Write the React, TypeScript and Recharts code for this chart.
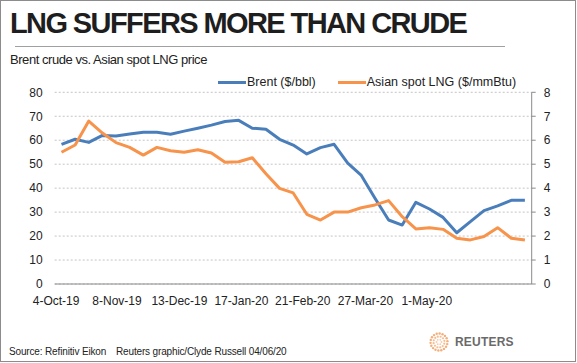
import React from 'react';
import { LineChart, Line, XAxis, YAxis, CartesianGrid } from 'recharts';

// weekly observations, 4-Oct-19 .. 29-May-20
const weeks = [
    '4-Oct-19', '11-Oct-19', '18-Oct-19', '25-Oct-19', '1-Nov-19', '8-Nov-19', '15-Nov-19',
    '22-Nov-19', '29-Nov-19', '6-Dec-19', '13-Dec-19', '20-Dec-19', '27-Dec-19', '3-Jan-20',
    '10-Jan-20', '17-Jan-20', '24-Jan-20', '31-Jan-20', '7-Feb-20', '14-Feb-20', '21-Feb-20',
    '28-Feb-20', '6-Mar-20', '13-Mar-20', '20-Mar-20', '27-Mar-20', '3-Apr-20', '10-Apr-20',
    '17-Apr-20', '24-Apr-20', '1-May-20', '8-May-20', '15-May-20', '22-May-20', '29-May-20',
];

// Brent, $/bbl (left axis)
const brent = [
    58.3, 60.4, 59.1, 62.0, 61.8, 62.6, 63.3, 63.3, 62.5, 63.8, 65.0, 66.3, 67.8, 68.3, 65.0,
    64.6, 60.4, 58.0, 54.3, 56.9, 58.3, 50.4, 45.3, 35.8, 26.7, 24.6, 34.1, 31.3, 27.8, 21.4,
    26.0, 30.6, 32.6, 34.9, 34.9,
];

// Asian spot LNG, $/mmBtu (right axis)
const lng = [
    5.5, 5.8, 6.8, 6.3, 5.9, 5.7, 5.38, 5.7, 5.56, 5.5, 5.6, 5.47, 5.08, 5.1, 5.27, 4.6, 3.99,
    3.8, 2.91, 2.67, 3.0, 3.0, 3.18, 3.3, 3.48, 2.81, 2.3, 2.35, 2.28, 1.91, 1.84, 1.98, 2.35,
    1.91, 1.84,
];

const seriesNames = ['Brent ($/bbl)', 'Asian spot LNG ($/mmBtu)'];
const seriesColors = ['#4a7ebb', '#f7934a'];

const xLabels = ['4-Oct-19', '8-Nov-19', '13-Dec-19', '17-Jan-20', '21-Feb-20', '27-Mar-20', '1-May-20'];
// where the original graphic puts those labels, in week-index units
const xLabelAt = [-0.4, 4.07, 8.65, 13.2, 17.7, 22.3, 26.8];

const leftTicks = [0, 10, 20, 30, 40, 50, 60, 70, 80];
const rightTicks = [0, 1, 2, 3, 4, 5, 6, 7, 8];

const data = weeks.map((week, i) => ({ idx: i, week, brent: brent[i], lng: lng[i] }));
const boundaryTicks = [...weeks.map((_, i) => i - 0.5), weeks.length - 0.5];

const FONT = '"Liberation Sans", Arial, Helvetica, sans-serif';
const AXIS = '#8a8a8a';

const ReutersLogo = () => {
    const rings = [
        { r: 2.5, n: 6, s: 0.9 },
        { r: 5.5, n: 12, s: 1.1 },
        { r: 8.5, n: 18, s: 1.2 },
    ];
    return (
        <svg width={24} height={24} style={{ position: 'absolute', left: 427, top: 330 }}>
            {rings.map((ring, k) =>
                Array.from({ length: ring.n }).map((_, j) => {
                    const a = (j / ring.n) * Math.PI * 2 + k * 0.3;
                    return (
                        <circle
                            key={`${k}-${j}`}
                            cx={12 + ring.r * Math.cos(a)}
                            cy={12 + ring.r * Math.sin(a)}
                            r={ring.s}
                            fill="#f4a062"
                            opacity={0.55 + 0.15 * k}
                        />
                    );
                })
            )}
        </svg>
    );
};

export default function App() {
    return (
        <div
            style={{
                position: 'absolute',
                left: 0,
                top: 0,
                width: 577,
                height: 363,
                background: '#fff',
                fontFamily: FONT,
                color: '#222',
                overflow: 'hidden',
            }}
        >
            <div
                style={{
                    position: 'absolute',
                    left: 0,
                    top: 0,
                    width: 576,
                    height: 362,
                    border: '1px solid #8c8c8c',
                    boxSizing: 'border-box',
                }}
            />
            <div
                style={{
                    position: 'absolute',
                    left: 10,
                    top: 9,
                    fontSize: 29,
                    lineHeight: '29px',
                    fontWeight: 'bold',
                    letterSpacing: -1.6,
                    color: '#1e1e1e',
                    whiteSpace: 'nowrap',
                }}
            >
                LNG SUFFERS MORE THAN CRUDE
            </div>
            <div style={{ position: 'absolute', left: 15, top: 46, width: 490, height: 1, background: '#a0a0a0' }} />
            <div
                style={{
                    position: 'absolute',
                    left: 10,
                    top: 53,
                    fontSize: 13,
                    lineHeight: '13px',
                    letterSpacing: -0.45,
                    whiteSpace: 'nowrap',
                }}
            >
                Brent crude vs. Asian spot LNG price
            </div>

            <div
                style={{
                    position: 'absolute',
                    left: 218,
                    top: 75,
                    display: 'flex',
                    gap: 22,
                    fontSize: 12.5,
                    lineHeight: '14px',
                    whiteSpace: 'nowrap',
                }}
            >
                {seriesNames.map((name, i) => (
                    <div key={name} style={{ display: 'flex', alignItems: 'center' }}>
                        <span style={{ display: 'inline-block', width: 28, height: 3, background: seriesColors[i], marginRight: 1 }} />
                        <span>{name}</span>
                    </div>
                ))}
            </div>

            <div style={{ position: 'absolute', left: 0, top: 0 }}>
                <LineChart
                    width={577}
                    height={363}
                    data={data}
                    margin={{ top: 92.3, right: 5.3, bottom: 49, left: 10 }}
                >
                    <CartesianGrid
                        yAxisId="left"
                        vertical={false}
                        stroke="#c4c4c4"
                        strokeDasharray="2 2"
                    />
                    <XAxis
                        dataKey="idx"
                        type="number"
                        domain={[-0.5, weeks.length - 0.5]}
                        ticks={boundaryTicks}
                        interval={0}
                        tick={false}
                        tickSize={4}
                        tickLine={{ stroke: AXIS }}
                        axisLine={{ stroke: AXIS }}
                        height={4}
                    />
                    <XAxis
                        xAxisId="lbl"
                        dataKey="idx"
                        type="number"
                        domain={[-0.5, weeks.length - 0.5]}
                        ticks={xLabelAt}
                        interval={0}
                        tickFormatter={(v) => xLabels[xLabelAt.indexOf(v)]}
                        tick={{ fontSize: 12, fill: '#222', fontFamily: FONT }}
                        axisLine={false}
                        tickLine={false}
                        height={26}
                    />
                    <YAxis
                        yAxisId="left"
                        domain={[0, 80]}
                        ticks={leftTicks}
                        interval={0}
                        axisLine={false}
                        tickLine={false}
                        tickMargin={6}
                        width={44.7}
                        tick={{ fontSize: 12, fill: '#222', fontFamily: FONT }}
                    />
                    <YAxis
                        yAxisId="right"
                        orientation="right"
                        domain={[0, 8]}
                        ticks={rightTicks}
                        interval={0}
                        axisLine={{ stroke: AXIS }}
                        tickLine={{ stroke: AXIS }}
                        tickSize={4}
                        tickMargin={8}
                        width={40}
                        tick={{ fontSize: 12, fill: '#222', fontFamily: FONT, textAnchor: 'start' }}
                    />
                    <Line
                        yAxisId="left"
                        type="linear"
                        dataKey="brent"
                        name={seriesNames[0]}
                        stroke={seriesColors[0]}
                        strokeWidth={3}
                        strokeLinejoin="round"
                        dot={false}
                        isAnimationActive={false}
                    />
                    <Line
                        yAxisId="right"
                        type="linear"
                        dataKey="lng"
                        name={seriesNames[1]}
                        stroke={seriesColors[1]}
                        strokeWidth={3}
                        strokeLinejoin="round"
                        dot={false}
                        isAnimationActive={false}
                    />
                </LineChart>
            </div>

            <div
                style={{
                    position: 'absolute',
                    left: 9,
                    top: 347,
                    fontSize: 10,
                    lineHeight: '10px',
                    letterSpacing: -0.15,
                    whiteSpace: 'nowrap',
                }}
            >
                Source: Refinitiv Eikon
            </div>
            <div
                style={{
                    position: 'absolute',
                    left: 116,
                    top: 347,
                    fontSize: 10,
                    lineHeight: '10px',
                    letterSpacing: -0.15,
                    whiteSpace: 'nowrap',
                }}
            >
                Reuters graphic/Clyde Russell 04/06/20
            </div>
            <ReutersLogo />
            <div
                style={{
                    position: 'absolute',
                    left: 455,
                    top: 336,
                    fontSize: 12,
                    lineHeight: '12px',
                    fontWeight: 'bold',
                    color: '#6a6a6a',
                    letterSpacing: 0.2,
                    whiteSpace: 'nowrap',
                }}
            >
                REUTERS
            </div>
        </div>
    );
}
